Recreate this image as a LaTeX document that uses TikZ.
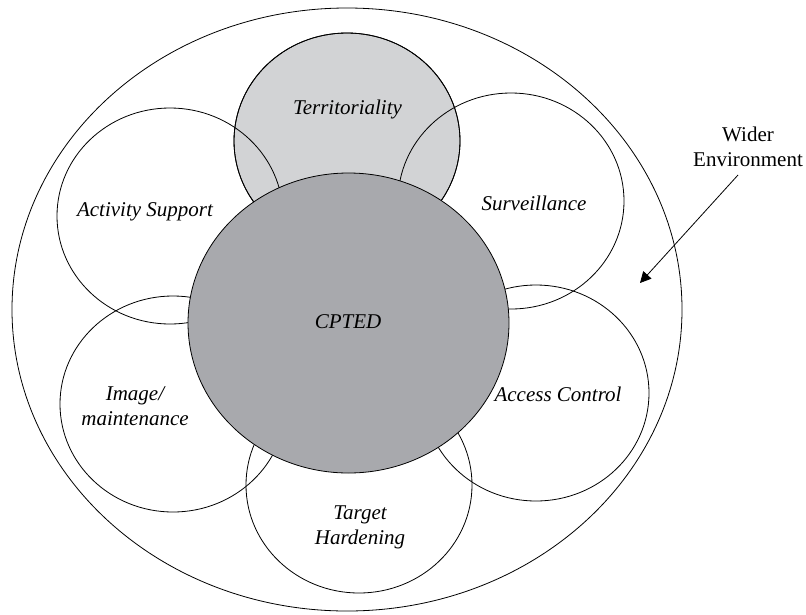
\documentclass[tikz,border=0pt]{standalone}
\usepackage{fontspec}
\setmainfont{Liberation Serif}
\usetikzlibrary{shapes.geometric,arrows.meta}
\definecolor{terrgray}{HTML}{D2D3D5}
\definecolor{cptedgray}{HTML}{A8A9AD}
\begin{document}
\begin{tikzpicture}[x=1pt,y=-1pt,
  ring/.style={ellipse, draw=black, line width=0.8pt, inner sep=0pt,
               minimum width=226pt, minimum height=216pt},
  lbl/.style={font=\fontsize{21}{25}\selectfont\itshape, align=center, inner sep=0pt},
  plain/.style={font=\fontsize{21}{25}\selectfont, align=center, inner sep=0pt},
  pointer/.style={line width=0.8pt, -{Triangle[length=11pt,width=11pt]}}]
\useasboundingbox (0,0) rectangle (806,614);
% wider environment
\node[ellipse, draw=black, line width=0.8pt, inner sep=0pt,
      minimum width=670pt, minimum height=603pt] (outer) at (347,309.5) {};
% territoriality (filled first)
\node[ring, fill=terrgray] (terr) at (347,141) {};
% other principles (outlines only)
\node[ring] (act) at (170,216) {};
\node[ring] (surv) at (511,201) {};
\node[ring] (acc) at (536,393) {};
\node[ring] (img) at (173,404) {};
\node[ring] (tgt) at (359,485) {};
% territoriality outline redrawn over neighbours
\node[ring] (terrline) at (347,141) {};
% CPTED core
\node[ellipse, draw=black, line width=0.8pt, fill=cptedgray, inner sep=0pt,
      minimum width=321pt, minimum height=300pt] (cpted) at (348.5,323) {};
% labels
\node[lbl] (tterr) at (347.5,109) {Territoriality};
\node[lbl] (tact) at (145,212) {Activity Support};
\node[lbl] (tsurv) at (534,203) {Surveillance};
\node[lbl] (tcpted) at (348,322) {CPTED};
\node[lbl] (tacc) at (558,394) {Access Control};
\node[lbl] (timg) at (135,406.5) {Image/\\maintenance};
\node[lbl] (ttgt) at (360,527) {Target\\Hardening};
\node[plain] (twider) at (748,147) {Wider\\Environment};
% arrow
\coordinate (astart) at (738,175);
\coordinate (atip) at (640,283);
\draw[pointer] (astart) -- (atip);
\end{tikzpicture}
\end{document}
